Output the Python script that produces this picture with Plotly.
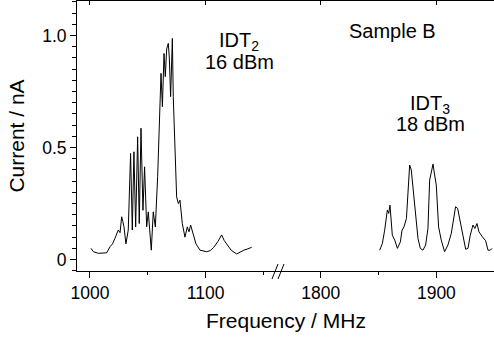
import plotly.graph_objects as go

# IDT2 (16 dBm) trace, lower frequency band
f_idt2 = [1000.9, 1003.0, 1007.2, 1011.0, 1014.4, 1017.3, 1019.5, 1021.6, 1023.0, 1024.5, 1026.0,
          1027.4, 1028.4, 1029.4, 1031.1, 1033.1, 1035.1, 1036.6, 1038.0, 1039.5, 1041.2,
          1042.6, 1044.1, 1045.8, 1047.2, 1049.0, 1050.4, 1053.0, 1054.7, 1056.5, 1058.5,
          1060.5, 1061.4, 1062.6, 1064.0, 1065.1, 1066.3, 1067.7, 1068.6, 1069.7, 1071.2,
          1072.0, 1073.5, 1074.9, 1076.4, 1077.8, 1079.8, 1082.1, 1084.1, 1085.6, 1087.0,
          1088.7, 1091.6, 1095.1, 1100.8, 1104.0, 1107.0, 1110.5, 1113.8, 1116.0, 1118.0,
          1122.0, 1126.8, 1130.0, 1133.0, 1136.5, 1139.8]
i_idt2 = [0.050, 0.035, 0.028, 0.028, 0.030, 0.057, 0.070, 0.095, 0.110, 0.132, 0.120,
          0.191, 0.170, 0.146, 0.070, 0.132, 0.474, 0.132, 0.481, 0.146, 0.548,
          0.161, 0.586, 0.220, 0.414, 0.146, 0.213, 0.042, 0.213, 0.146, 0.370,
          0.637, 0.831, 0.682, 0.920, 0.816, 0.940, 0.965, 0.900, 0.727, 0.987,
          0.727, 0.489, 0.280, 0.250, 0.265, 0.161, 0.100, 0.146, 0.124, 0.154,
          0.124, 0.070, 0.042, 0.035, 0.040, 0.055, 0.080, 0.110, 0.085, 0.070,
          0.042, 0.025, 0.035, 0.042, 0.048, 0.055]

# IDT3 (18 dBm) trace, upper frequency band
f_idt3 = [1851.0, 1853.3, 1855.3, 1857.6, 1858.8, 1859.9, 1861.9, 1864.0, 1866.3, 1868.9,
          1870.3, 1872.0, 1874.1, 1875.5, 1876.9, 1878.3, 1880.4, 1882.1, 1884.1, 1886.1,
          1888.4, 1890.7, 1892.7, 1894.2, 1895.9, 1897.1, 1898.5, 1899.9, 1901.9, 1904.2,
          1907.1, 1910.0, 1912.9, 1914.9, 1916.6, 1918.4, 1920.1, 1922.4, 1925.3, 1927.3,
          1929.3, 1931.6, 1933.3, 1935.1, 1936.8, 1939.7, 1942.6, 1944.6, 1946.6, 1948.1]
i_idt3 = [0.042, 0.072, 0.131, 0.221, 0.206, 0.243, 0.109, 0.087, 0.050, 0.079,
          0.131, 0.146, 0.183, 0.295, 0.422, 0.400, 0.295, 0.191, 0.094, 0.050,
          0.042, 0.065, 0.139, 0.355, 0.400, 0.426, 0.377, 0.333, 0.146, 0.087,
          0.035, 0.065, 0.117, 0.176, 0.236, 0.228, 0.183, 0.109, 0.046, 0.050,
          0.109, 0.154, 0.139, 0.161, 0.124, 0.102, 0.084, 0.042, 0.042, 0.050]

x1_ticks = [1000, 1100]
x2_ticks = [1800, 1900]
y_tickvals = [0, 0.5, 1.0]
y_ticktext = ["0", "0.5", "1.0"]

FONT = "Liberation Sans, Arial, sans-serif"
W, H = 494, 338
ML, MR, MT, MB = 77, 0, 1, 67
split = (278 - ML) / (W - ML - MR)

fig = go.Figure()
fig.add_trace(go.Scatter(x=f_idt2, y=i_idt2, mode="lines", xaxis="x", yaxis="y",
                         line=dict(color="black", width=1), showlegend=False))
fig.add_trace(go.Scatter(x=f_idt3, y=i_idt3, mode="lines", xaxis="x2", yaxis="y",
                         line=dict(color="black", width=1), showlegend=False))

common_x = dict(showgrid=False, zeroline=False, showline=True, linecolor="black", linewidth=1,
                ticks="outside", ticklen=6, tickwidth=1, tickcolor="black",
                tickfont=dict(family=FONT, size=17.5, color="black"),
                minor=dict(ticks="outside", ticklen=3, dtick=50, tickcolor="black"))

fig.update_layout(
    width=W, height=H, margin=dict(l=ML, r=MR, t=MT, b=MB),
    paper_bgcolor="white", plot_bgcolor="white",
    xaxis=dict(domain=[0, split], range=[988.8, 1162.5], tickvals=x1_ticks, anchor="y", **common_x),
    xaxis2=dict(domain=[split, 1], range=[1763.1, 1949.8], tickvals=x2_ticks, anchor="y", **common_x),
    xaxis3=dict(domain=[0, split], range=[988.8, 1162.5], tickvals=x1_ticks, side="top",
                overlaying="x", anchor="y", showline=True, linecolor="black", linewidth=1,
                ticks="inside", ticklen=4, tickcolor="black", showticklabels=False,
                showgrid=False, zeroline=False),
    xaxis4=dict(domain=[split, 1], range=[1763.1, 1949.8], tickvals=x2_ticks, side="top",
                overlaying="x2", anchor="y", showline=True, linecolor="black", linewidth=1,
                ticks="inside", ticklen=4, tickcolor="black", showticklabels=False,
                showgrid=False, zeroline=False),
    yaxis=dict(range=[-0.051, 1.154], tickvals=y_tickvals, ticktext=y_ticktext,
               showgrid=False, zeroline=False, showline=True, linecolor="black", linewidth=1,
               ticks="outside", ticklen=6, tickcolor="black",
               tickfont=dict(family=FONT, size=17.5, color="black"),
               minor=dict(ticks="outside", ticklen=4, dtick=0.05, tickcolor="black"),
               title=dict(text="Current / nA", font=dict(family=FONT, size=21, color="black"),
                          standoff=11)),
)

# dummy traces so overlay axes render
fig.add_trace(go.Scatter(x=[None], y=[None], xaxis="x3", yaxis="y", showlegend=False))
fig.add_trace(go.Scatter(x=[None], y=[None], xaxis="x4", yaxis="y", showlegend=False))

ann_font = dict(family=FONT, size=20, color="black")
fig.add_annotation(text="IDT<sub>2</sub>", x=1129.2, y=0.975, xref="x", yref="y",
                   showarrow=False, font=ann_font)
fig.add_annotation(text="16 dBm", x=1129.2, y=0.882, xref="x", yref="y",
                   showarrow=False, font=ann_font)
fig.add_annotation(text="Sample B", x=1862.1, y=1.018, xref="x2", yref="y",
                   showarrow=False, font=ann_font)
fig.add_annotation(text="IDT<sub>3</sub>", x=1894.5, y=0.690, xref="x2", yref="y",
                   showarrow=False, font=ann_font)
fig.add_annotation(text="18 dBm", x=1894.5, y=0.605, xref="x2", yref="y",
                   showarrow=False, font=ann_font)
fig.add_annotation(text="Frequency / MHz", x=0.5, y=-0.185, xref="paper", yref="paper",
                   yanchor="middle", showarrow=False, font=dict(family=FONT, size=21, color="black"))

# axis break marks "//"
pw = W - ML - MR
ph = H - MT - MB
for x0 in (272, 278):
    fig.add_shape(type="line", xref="paper", yref="paper",
                  x0=(x0 - ML) / pw, x1=(x0 + 6 - ML) / pw,
                  y0=-(279 - 271) / ph, y1=(271 - 264) / ph,
                  line=dict(color="black", width=1))

fig.write_html("out.html")
